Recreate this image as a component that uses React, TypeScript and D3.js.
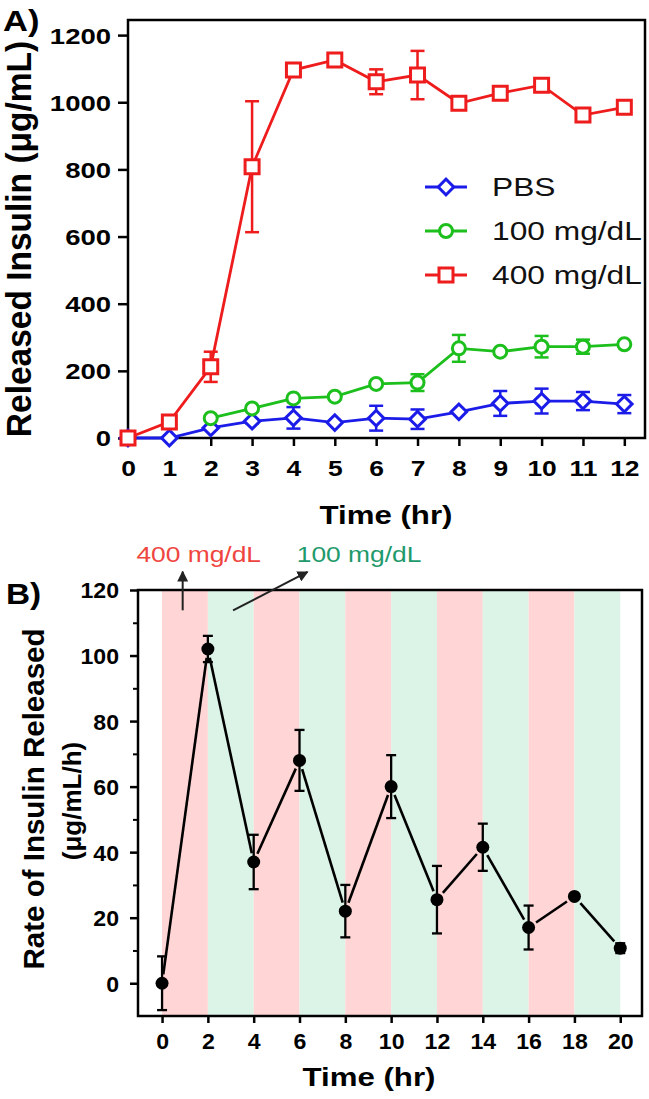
import { useEffect, useRef } from "react";
import * as d3 from "d3";

// ---- Panel A: cumulative released insulin (ug/mL) ----
const timeA = [0, 1, 2, 3, 4, 5, 6, 7, 8, 9, 10, 11, 12];
const pbsMean = [0, 0, 30, 50, 60, 46, 59, 56, 78, 103, 110, 110, 101];
const pbsErr = [0, 0, 0, 6, 32, 0, 37, 29, 0, 37, 37, 27, 27];
const lowMean = [null, null, 59, 88, 118, 123, 161, 165, 267, 257, 272, 272, 279];
const lowErr = [0, 0, 0, 0, 0, 0, 0, 25, 40, 0, 32, 21, 0];
const highMean = [0, 48, 212, 808, 1096, 1126, 1061, 1081, 997, 1027, 1051, 962, 985];
const highErr = [0, 0, 45, 195, 0, 0, 37, 72, 0, 0, 0, 0, 0];
const yTicksA = [0, 200, 400, 600, 800, 1000, 1200];

// ---- Panel B: release rate (ug/mL/h) ----
const timeB = [0, 2, 4, 6, 8, 10, 12, 14, 16, 18, 20];
const rateMean = [0, 102, 37, 68, 22, 60, 25.5, 41.5, 17, 26.5, 10.7];
const rateErr = [8.2, 4, 8.3, 9.3, 8, 9.6, 10.3, 7.2, 6.7, 0, 1.5];
const bandStart = [0, 2, 4, 6, 8, 10, 12, 14, 16, 18];
const bandGlucose = [400, 100, 400, 100, 400, 100, 400, 100, 400, 100];
const yTicksB = [0, 20, 40, 60, 80, 100, 120];
const yMinorB = [10, 30, 50, 70, 90, 110];

const FONT = "'Liberation Sans', Arial, Helvetica, sans-serif";
const RED = "#ee1c1c";
const GREEN = "#1cbf1c";
const BLUE = "#1c1ce8";

export default function App() {
  const svgRef = useRef<SVGSVGElement>(null);

  useEffect(() => {
    if (!svgRef.current) return;
    const svg = d3.select(svgRef.current);
    svg.selectAll("*").remove();

    // stretched text helper (the figure's lettering is a little wide)
    const label = (g: any, x: number, y: number, txt: string, o: any = {}) =>
      g.append("text")
        .attr("transform", `translate(${x},${y}) rotate(${o.rotate || 0}) scale(${o.sx || 1},${o.sy || 1})`)
        .attr("text-anchor", o.anchor || "middle")
        .attr("font-family", FONT)
        .attr("font-weight", o.weight || "bold")
        .attr("font-size", o.size || 20)
        .attr("fill", o.fill || "#000")
        .text(txt);

    // ================= Panel A =================
    const xA = d3.scaleLinear().domain([0, 12.5]).range([128, 645]);
    const yA = d3.scaleLinear().domain([0, 1245]).range([438, 20]);
    const gA = svg.append("g");

    const bx = gA.append("g")
      .attr("transform", `translate(0,${yA(0)})`)
      .call(d3.axisBottom(xA).tickValues(timeA).tickSize(8).tickPadding(14).tickSizeOuter(0));
    bx.select(".domain").remove();
    bx.selectAll("line").attr("stroke", "#000").attr("stroke-width", 2.5);
    bx.selectAll("text")
      .attr("font-family", FONT).attr("font-weight", "bold").attr("font-size", 22).attr("fill", "#000")
      .attr("transform", "scale(1.2,1)");

    const lx = gA.append("g")
      .attr("transform", `translate(${xA(0)},0)`)
      .call(d3.axisLeft(yA).tickValues(yTicksA).tickFormat(d3.format("d")).tickSize(10).tickSizeOuter(0));
    lx.select(".domain").remove();
    lx.selectAll("line").attr("stroke", "#000").attr("stroke-width", 2.5);
    lx.selectAll("text")
      .attr("font-family", FONT).attr("font-weight", "bold").attr("font-size", 22).attr("fill", "#000")
      .attr("x", -17 / 1.25).attr("dy", "0.36em")
      .attr("transform", "scale(1.25,1)");

    gA.append("rect")
      .attr("x", xA(0)).attr("y", yA(1245))
      .attr("width", xA(12.5) - xA(0)).attr("height", yA(0) - yA(1245))
      .attr("fill", "none").attr("stroke", "#000").attr("stroke-width", 2.5);

    const seriesA = [
      { name: "PBS", mean: pbsMean, err: pbsErr, color: BLUE, shape: "diamond" },
      { name: "100 mg/dL", mean: lowMean, err: lowErr, color: GREEN, shape: "circle" },
      { name: "400 mg/dL", mean: highMean, err: highErr, color: RED, shape: "square" },
    ];

    const drawMarker = (g: any, shape: string, x: number, y: number, color: string) => {
      if (shape === "circle") {
        g.append("circle").attr("cx", x).attr("cy", y).attr("r", 6.5)
          .attr("fill", "#fff").attr("stroke", color).attr("stroke-width", 3);
      } else if (shape === "square") {
        g.append("path").attr("d", d3.symbol(d3.symbolSquare, 14 * 14)())
          .attr("transform", `translate(${x},${y})`)
          .attr("fill", "#fff").attr("stroke", color).attr("stroke-width", 3);
      } else {
        g.append("path").attr("d", d3.symbol(d3.symbolSquare, 11 * 11)())
          .attr("transform", `translate(${x},${y}) rotate(45)`)
          .attr("fill", "#fff").attr("stroke", color).attr("stroke-width", 3);
      }
    };

    const lineA = d3.line<any>()
      .defined((d) => d[1] != null)
      .x((d) => xA(d[0]))
      .y((d) => yA(d[1]));

    seriesA.forEach((s) => {
      const g = gA.append("g");
      const pts = timeA.map((t, i) => [t, s.mean[i]]);
      g.append("path").attr("d", lineA(pts)).attr("fill", "none")
        .attr("stroke", s.color).attr("stroke-width", 2.8);
      timeA.forEach((t, i) => {
        const v = s.mean[i];
        const e = s.err[i];
        if (v == null || !e) return;
        const x = xA(t);
        g.append("line").attr("x1", x).attr("x2", x).attr("y1", yA(v - e)).attr("y2", yA(v + e))
          .attr("stroke", s.color).attr("stroke-width", 2.5);
        [v - e, v + e].forEach((c) =>
          g.append("line").attr("x1", x - 7).attr("x2", x + 7).attr("y1", yA(c)).attr("y2", yA(c))
            .attr("stroke", s.color).attr("stroke-width", 2.5));
      });
      timeA.forEach((t, i) => {
        if (s.mean[i] == null) return;
        drawMarker(g, s.shape, xA(t), yA(s.mean[i] as number), s.color);
      });
    });

    // legend
    seriesA.forEach((s, i) => {
      const ry = 187 + i * 44;
      gA.append("line").attr("x1", 425).attr("x2", 467).attr("y1", ry).attr("y2", ry)
        .attr("stroke", s.color).attr("stroke-width", 2.8);
      drawMarker(gA, s.shape, 446, ry, s.color);
      label(gA, 492, ry + 9, s.name, { anchor: "start", weight: "normal", size: 26, sx: 1.22, fill: "#111" });
    });

    label(gA, 386, 524, "Time (hr)", { size: 26, sx: 1.2 });
    label(gA, 31, 239, "Released Insulin (\u03bcg/mL)", { size: 33.5, rotate: -90, sy: 1.05 });
    label(gA, 3, 31, "A)", { anchor: "start", size: 30, sx: 1.15 });

    // ================= Panel B =================
    const xB = d3.scaleLinear().domain([-1.05, 20.95]).range([138, 642]);
    const yB = d3.scaleLinear().domain([-10, 120]).range([1016, 590]);
    const gB = svg.append("g");

    gB.selectAll("rect.band")
      .data(bandStart)
      .enter()
      .append("rect")
      .attr("class", "band")
      .attr("x", (d) => xB(d))
      .attr("width", (d) => xB(d + 2) - xB(d))
      .attr("y", yB(120))
      .attr("height", yB(-10) - yB(120))
      .attr("fill", (d, i) => (bandGlucose[i] === 400 ? "#ffd5d5" : "#dcf3e8"));

    const bxB = gB.append("g")
      .attr("transform", `translate(0,${yB(-10)})`)
      .call(d3.axisBottom(xB).tickValues(timeB).tickSize(7).tickPadding(10).tickSizeOuter(0));
    bxB.select(".domain").remove();
    bxB.selectAll("line").attr("stroke", "#000").attr("stroke-width", 2.5);
    bxB.selectAll("text")
      .attr("font-family", FONT).attr("font-weight", "bold").attr("font-size", 22).attr("fill", "#000")
      .attr("transform", "scale(1.05,1)");

    const lxB = gB.append("g")
      .attr("transform", `translate(${xB(-1.05)},0)`)
      .call(d3.axisLeft(yB).tickValues(yTicksB).tickSize(8).tickSizeOuter(0));
    lxB.select(".domain").remove();
    lxB.selectAll("line").attr("stroke", "#000").attr("stroke-width", 2.5);
    lxB.selectAll("text")
      .attr("font-family", FONT).attr("font-weight", "bold").attr("font-size", 22).attr("fill", "#000")
      .attr("x", -19 / 1.05).attr("dy", "0.36em")
      .attr("transform", "scale(1.05,1)");

    const mxB = gB.append("g")
      .attr("transform", `translate(${xB(-1.05)},0)`)
      .call(d3.axisLeft(yB).tickValues(yMinorB).tickSize(5).tickFormat(() => "").tickSizeOuter(0));
    mxB.select(".domain").remove();
    mxB.selectAll("line").attr("stroke", "#000").attr("stroke-width", 2);

    gB.append("rect")
      .attr("x", xB(-1.05)).attr("y", yB(120))
      .attr("width", xB(20.95) - xB(-1.05)).attr("height", yB(-10) - yB(120))
      .attr("fill", "none").attr("stroke", "#000").attr("stroke-width", 2.5);

    // connecting segments with small gaps at the markers
    const ptsB = timeB.map((t, i) => [xB(t), yB(rateMean[i])]);
    const gap = 9;
    for (let i = 0; i < ptsB.length - 1; i++) {
      const [x1, y1] = ptsB[i];
      const [x2, y2] = ptsB[i + 1];
      const len = Math.hypot(x2 - x1, y2 - y1);
      const ux = (x2 - x1) / len;
      const uy = (y2 - y1) / len;
      gB.append("line")
        .attr("x1", x1 + ux * gap).attr("y1", y1 + uy * gap)
        .attr("x2", x2 - ux * gap).attr("y2", y2 - uy * gap)
        .attr("stroke", "#000").attr("stroke-width", 2.6);
    }
    timeB.forEach((t, i) => {
      const v = rateMean[i];
      const e = rateErr[i];
      if (!e) return;
      const x = xB(t);
      gB.append("line").attr("x1", x).attr("x2", x).attr("y1", yB(v - e)).attr("y2", yB(v + e))
        .attr("stroke", "#000").attr("stroke-width", 2.3);
      [v - e, v + e].forEach((c) =>
        gB.append("line").attr("x1", x - 5).attr("x2", x + 5).attr("y1", yB(c)).attr("y2", yB(c))
          .attr("stroke", "#000").attr("stroke-width", 2.3));
    });
    gB.selectAll("circle.pt")
      .data(timeB)
      .enter()
      .append("circle")
      .attr("class", "pt")
      .attr("cx", (d) => xB(d))
      .attr("cy", (d, i) => yB(rateMean[i]))
      .attr("r", 6.5)
      .attr("fill", "#000");

    // glucose annotation + arrows
    const defs = svg.append("defs");
    defs.append("marker")
      .attr("id", "arrowHead")
      .attr("viewBox", "0 0 10 10")
      .attr("refX", 9).attr("refY", 5)
      .attr("markerUnits", "userSpaceOnUse")
      .attr("markerWidth", 11).attr("markerHeight", 11)
      .attr("orient", "auto")
      .append("path").attr("d", "M0,0 L10,5 L0,10 z").attr("fill", "#222");

    gB.append("line")
      .attr("x1", xB(0.9)).attr("y1", yB(113.8))
      .attr("x2", xB(0.9)).attr("y2", yB(125.6))
      .attr("stroke", "#222").attr("stroke-width", 2).attr("marker-end", "url(#arrowHead)");
    gB.append("line")
      .attr("x1", xB(3.1)).attr("y1", yB(113.8))
      .attr("x2", xB(6.35)).attr("y2", yB(125.5))
      .attr("stroke", "#222").attr("stroke-width", 2).attr("marker-end", "url(#arrowHead)");

    label(gB, xB(1.6), 562, "400 mg/dL", { weight: "normal", size: 22, sx: 1.2, fill: "#ef4540" });
    label(gB, xB(8.6), 562, "100 mg/dL", { weight: "normal", size: 22, sx: 1.2, fill: "#1f9a6c" });

    label(gB, 369, 1086, "Time (hr)", { size: 26, sx: 1.2 });
    label(gB, 44, 799, "Rate of Insulin Released", { size: 29.5, rotate: -90 });
    label(gB, 81, 801, "(\u03bcg/mL/h)", { size: 26, rotate: -90 });
    label(gB, 6, 604, "B)", { anchor: "start", size: 29, sx: 1.15 });
  }, []);

  return (
    <svg
      ref={svgRef}
      width={649}
      height={1099}
      style={{ position: "absolute", left: 0, top: 0, background: "#fff" }}
    />
  );
}
